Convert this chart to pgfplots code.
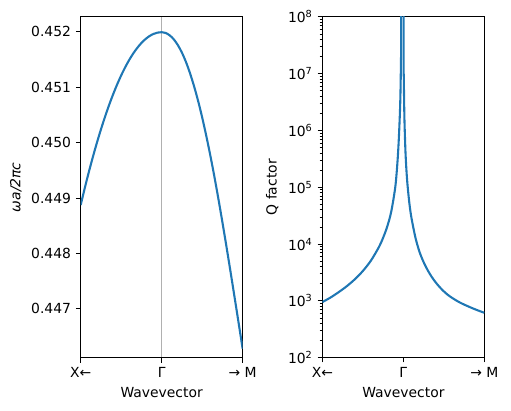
\documentclass[border=0pt]{standalone}
\usepackage{fontspec}
\setmainfont{DejaVu Sans}
\usepackage{pgfplots}
\pgfplotsset{compat=1.18}
\definecolor{c0}{HTML}{1F77B4}
\definecolor{gridgray}{HTML}{B0B0B0}
\begin{document}
\begin{tikzpicture}[x=1pt,y=1pt]
\useasboundingbox (0,0) rectangle (367.9,295.9);
\pgfplotsset{
  myax/.style={
    scale only axis, width=116.6pt, height=245.3pt, anchor=south west,
    axis line style={line width=0.8pt, black},
    tick align=outside, xtick pos=bottom, ytick pos=left,
    major tick length=3.5pt, minor tick length=2pt,
    every tick/.style={line width=0.8pt, black},
    minor tick style={line width=0.6pt, black},
    xmin=-1, xmax=1,
    xtick={-1,0,1}, xticklabels={X←, Γ, → M},
    xlabel={Wavevector},
    tick label style={font=\fontsize{10}{12}\selectfont},
    label style={font=\fontsize{10}{12}\selectfont},
  }
}
\begin{axis}[myax, at={(58.1pt,38.4pt)},
  ymin=0.44612, ymax=0.45227,
  ytick={0.447,0.448,0.449,0.450,0.451,0.452},
  yticklabels={0.447,0.448,0.449,0.450,0.451,0.452},
  ylabel={\itshape ωa/2πc},
  xmajorgrids=true, grid style={color=gridgray, line width=0.8pt},
]
\addplot[c0, line width=1.5pt, smooth, tension=0.5] coordinates {
(-1.00,0.448875) (-0.95,0.449179) (-0.90,0.449468) (-0.85,0.449741)
(-0.80,0.449998) (-0.75,0.450240) (-0.70,0.450466) (-0.65,0.450677)
(-0.60,0.450872) (-0.55,0.451051) (-0.50,0.451215) (-0.45,0.451363)
(-0.40,0.451496) (-0.35,0.451613) (-0.30,0.451714) (-0.25,0.451800)
(-0.20,0.451870) (-0.15,0.451925) (-0.10,0.451964) (-0.05,0.451987)
(0.00,0.451995)
(0.05,0.451981) (0.10,0.451937) (0.15,0.451865) (0.20,0.451761)
(0.25,0.451626) (0.30,0.451457) (0.35,0.451254) (0.40,0.451019)
(0.45,0.450754) (0.50,0.450457) (0.55,0.450129) (0.60,0.449775)
(0.65,0.449395) (0.70,0.448990) (0.75,0.448565) (0.80,0.448125)
(0.85,0.447673) (0.90,0.447213) (0.95,0.446748) (1.00,0.446280)
};
\end{axis}
\begin{axis}[myax, at={(232.1pt,38.4pt)},
  ymode=log, log basis y=10,
  ymin=1e2, ymax=1e8,
  ytick={1e2,1e3,1e4,1e5,1e6,1e7,1e8},
  yticklabels={10\textsuperscript{2},10\textsuperscript{3},10\textsuperscript{4},10\textsuperscript{5},10\textsuperscript{6},10\textsuperscript{7},10\textsuperscript{8}},
  minor ytick={200,300,400,500,600,700,800,900,
    2000,3000,4000,5000,6000,7000,8000,9000,
    20000,30000,40000,50000,60000,70000,80000,90000,
    2e5,3e5,4e5,5e5,6e5,7e5,8e5,9e5,
    2e6,3e6,4e6,5e6,6e6,7e6,8e6,9e6,
    2e7,3e7,4e7,5e7,6e7,7e7,8e7,9e7},
  ylabel={Q factor},
]
\addplot[c0, line width=1.5pt, smooth, tension=0.5] coordinates {
(-1.00,952) (-0.90,1143) (-0.80,1420) (-0.70,1806) (-0.60,2394)
(-0.50,3361) (-0.40,5123) (-0.30,8961) (-0.25,12903) (-0.20,20161)
(-0.15,37037) (-0.10,1.0e5) (-0.075,2.5e5) (-0.06,5.5e5) (-0.05,1.1e6)
(-0.04,2.6e6) (-0.034,6e6) (-0.030,1.6e7) (-0.027,6e7) (-0.025,1e12)
};
\addplot[c0, line width=1.5pt, smooth, tension=0.5] coordinates {
(0.0010,1e12) (0.0030,3.2e7) (0.0060,8.05e6) (0.010,2.9e6) (0.015,1.29e6)
(0.025,4.64e5) (0.035,2.37e5) (0.050,1.159e5) (0.075,51530) (0.10,28986)
(0.15,12882) (0.20,7246) (0.25,4819) (0.30,3475) (0.35,2649) (0.40,2109)
(0.45,1738) (0.50,1469) (0.55,1274) (0.60,1135) (0.65,1023) (0.70,933)
(0.75,861) (0.80,800) (0.85,745) (0.90,697) (0.95,655) (1.00,617)
};
\end{axis}
\end{tikzpicture}
\end{document}
